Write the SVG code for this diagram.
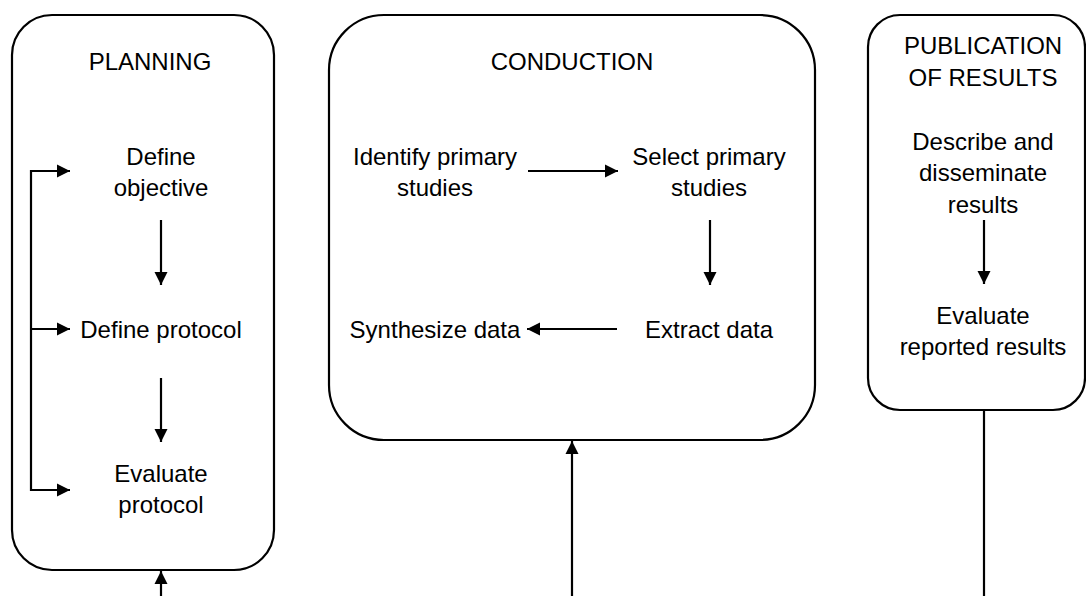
<svg xmlns="http://www.w3.org/2000/svg" width="1086" height="596" viewBox="0 0 1086 596">
<style>
.box{fill:#fff;stroke:#000;stroke-width:2.2}
.t{font-family:"Liberation Sans",Arial,sans-serif;font-size:24px;fill:#000;text-anchor:middle}
.c{fill:none;stroke:#000;stroke-width:2.2}
</style>
<defs>
<marker id="ah" viewBox="0 0 10 10" refX="10" refY="5" markerWidth="6" markerHeight="6" orient="auto" markerUnits="strokeWidth">
<path d="M0,0 L10,5 L0,10 Z" fill="#000"/>
</marker>
</defs>
<rect width="1086" height="596" fill="#fff"/>
<g id="planning">
<rect class="box" x="12" y="15" width="262" height="555" rx="40" ry="40"/>
<text class="t" x="150" y="70">PLANNING</text>
</g>
<g id="define-objective"><text class="t" x="161" y="165">Define</text><text class="t" x="161" y="196">objective</text></g>
<g id="define-protocol"><text class="t" x="161" y="338">Define protocol</text></g>
<g id="evaluate-protocol"><text class="t" x="161" y="482">Evaluate</text><text class="t" x="161" y="513">protocol</text></g>
<g id="conduction">
<rect class="box" x="329" y="15" width="486" height="425" rx="55" ry="55"/>
<text class="t" x="572" y="70">CONDUCTION</text>
</g>
<g id="identify"><text class="t" x="435" y="165">Identify primary</text><text class="t" x="435" y="196">studies</text></g>
<g id="select"><text class="t" x="709" y="165">Select primary</text><text class="t" x="709" y="196">studies</text></g>
<g id="extract"><text class="t" x="709" y="338">Extract data</text></g>
<g id="synthesize"><text class="t" x="435" y="338">Synthesize data</text></g>
<g id="publication">
<rect class="box" x="868" y="15" width="217" height="395" rx="32" ry="32"/>
<text class="t" x="983" y="54">PUBLICATION</text>
<text class="t" x="983" y="86">OF RESULTS</text>
</g>
<g id="describe"><text class="t" x="983" y="150">Describe and</text><text class="t" x="983" y="181">disseminate</text><text class="t" x="983" y="213">results</text></g>
<g id="evaluate-results"><text class="t" x="983" y="324">Evaluate</text><text class="t" x="983" y="355">reported results</text></g>
<g id="connectors">
<line class="c" x1="161" y1="220" x2="161" y2="285" marker-end="url(#ah)"/>
<line class="c" x1="161" y1="378" x2="161" y2="442" marker-end="url(#ah)"/>
<polyline class="c" points="70,171 31,171 31,490 70,490"/>
<line class="c" x1="31" y1="171" x2="70" y2="171" marker-end="url(#ah)"/>
<line class="c" x1="31" y1="329" x2="70" y2="329" marker-end="url(#ah)"/>
<line class="c" x1="31" y1="490" x2="70" y2="490" marker-end="url(#ah)"/>
<line class="c" x1="161" y1="596" x2="161" y2="571" marker-end="url(#ah)"/>
<line class="c" x1="528" y1="171" x2="618" y2="171" marker-end="url(#ah)"/>
<line class="c" x1="710" y1="220" x2="710" y2="285" marker-end="url(#ah)"/>
<line class="c" x1="617" y1="329" x2="527" y2="329" marker-end="url(#ah)"/>
<line class="c" x1="572" y1="596" x2="572" y2="441" marker-end="url(#ah)"/>
<line class="c" x1="984" y1="220" x2="984" y2="284" marker-end="url(#ah)"/>
<line class="c" x1="984" y1="411" x2="984" y2="596"/>
</g>
</svg>
